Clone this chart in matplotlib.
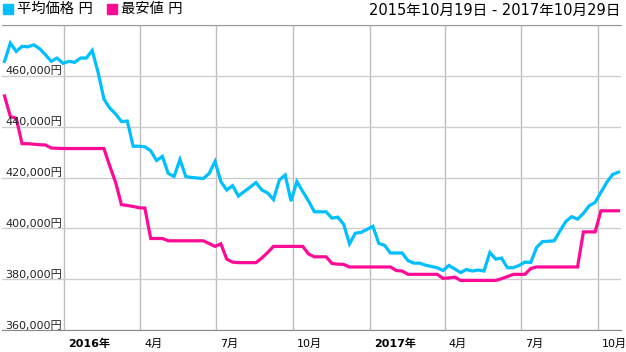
import matplotlib.pyplot as plt
import matplotlib.patches as patches
import pandas as pd

plt.rcParams['font.family'] = ['DejaVu Sans', 'Noto Sans CJK JP']

# weekly samples
weeks = pd.date_range('2015-10-22', periods=106, freq='7D')

avg_price = [
    465700, 472900, 469600, 471600, 471400, 472200, 470700, 468300, 465700, 467000,
    464900, 465700, 465300, 467000, 467000, 470000, 461400, 450900, 447300, 445000,
    442000, 442200, 432300, 432300, 432100, 430500, 426700, 428300, 421600, 420400,
    427100, 420400, 420000, 419800, 419600, 421600, 426300, 418400, 415100, 416800,
    412700, 414500, 416200, 418000, 415100, 413900, 411300, 419000, 421000, 410700,
    418400, 414500, 410700, 406500, 406500, 406500, 404000, 404400, 401600, 393900,
    398100, 398400, 399600, 400800, 394100, 393300, 390300, 390300, 390300, 387300,
    386300, 386300, 385500, 385000, 384500, 383400, 385400, 384000, 382600, 383800,
    383200, 383600, 383200, 390500, 387900, 388300, 384500, 384500, 385400, 386700,
    386600, 392500, 394800, 394900, 395100, 399000, 402700, 404600, 403600, 405900,
    408900, 410200, 414200, 418100, 421200, 422100,
]

min_price = [
    452100, 444000, 443300, 433300, 433300, 433100, 432900, 432800, 431600, 431500,
    431400, 431400, 431400, 431400, 431400, 431400, 431400, 431400, 424500, 418100,
    409300, 409000, 408600, 408100, 408000, 396000, 396000, 396000, 395100, 395100,
    395100, 395100, 395100, 395100, 395100, 394000, 392900, 393900, 387900, 386700,
    386500, 386500, 386500, 386500, 388300, 390500, 392900, 392900, 392900, 392900,
    392900, 392900, 389900, 388800, 388800, 388800, 386200, 385900, 385800, 384800,
    384800, 384800, 384800, 384800, 384800, 384800, 384800, 383400, 383200, 381900,
    381900, 381900, 381900, 381900, 381900, 380300, 380500, 380800, 379500, 379500,
    379500, 379500, 379500, 379500, 379500, 380200, 381000, 381900, 381900, 381900,
    384200, 384800, 384800, 384800, 384800, 384800, 384800, 384800, 384800, 398600,
    398600, 398600, 406900, 406900, 406900, 406900,
]

tick_dates = pd.to_datetime(['2016-01-01', '2016-04-01', '2016-07-01', '2016-10-01',
                             '2017-01-01', '2017-04-01', '2017-07-01', '2017-10-01'])
tick_labels = ['2016年', '4月', '7月', '10月', '2017年', '4月', '7月', '10月']
y_ticks = [360000, 380000, 400000, 420000, 440000, 460000, 480000]

W, H = 626, 352
fig = plt.figure(figsize=(W / 100, H / 100), dpi=100)
ax = fig.add_axes([2 / W, 22 / H, 619 / W, 305 / H])

ax.plot(weeks, avg_price, color='#00bfff', lw=2.3, solid_joinstyle='miter')
ax.plot(weeks, min_price, color='#ff0a96', lw=2.3, solid_joinstyle='miter')

ax.set_xlim(pd.Timestamp('2015-10-19'), pd.Timestamp('2017-10-29'))
ax.set_ylim(360000, 480000)
ax.set_xticks(tick_dates)
ax.set_yticks(y_ticks)
ax.tick_params(length=0, labelbottom=False, labelleft=False)
ax.grid(True, axis='y', color='#cccccc', lw=1)
ax.grid(True, axis='x', color='#bdbdbd', lw=1)
ax.set_axisbelow(True)

for s in ['left', 'right']:
    ax.spines[s].set_visible(False)
ax.spines['top'].set_color('#999999')
ax.spines['bottom'].set_color('#888888')

for d, lab in zip(tick_dates, tick_labels):
    ax.annotate(lab, (d, 0), xycoords=('data', 'axes fraction'),
                xytext=(3, -10), textcoords='offset points',
                ha='left', va='center', fontsize=8,
                fontweight='bold' if '年' in lab else 'normal')

for v in y_ticks[:-1]:
    ax.annotate(f'{v:,}円', (0, v), xycoords=('axes fraction', 'data'),
                xytext=(2.2, 1), textcoords='offset points',
                ha='left', va='baseline', fontsize=8, color='#222222')

# legend squares and title
fig.patches.append(patches.Rectangle((3 / W, 1 - 14 / H), 10 / W, 10 / H,
                                     color='#00bfff', transform=fig.transFigure))
fig.text(17 / W, 1 - 9 / H, '平均価格 円', va='center', ha='left', fontsize=10.3)
fig.patches.append(patches.Rectangle((107 / W, 1 - 14 / H), 10 / W, 10 / H,
                                     color='#ff0a96', transform=fig.transFigure))
fig.text(121 / W, 1 - 9 / H, '最安値 円', va='center', ha='left', fontsize=10.3)
fig.text(620 / W, 1 - 10 / H, '2015年10月19日 - 2017年10月29日',
         va='center', ha='right', fontsize=10.5)

fig.savefig('out.png', dpi=100)
